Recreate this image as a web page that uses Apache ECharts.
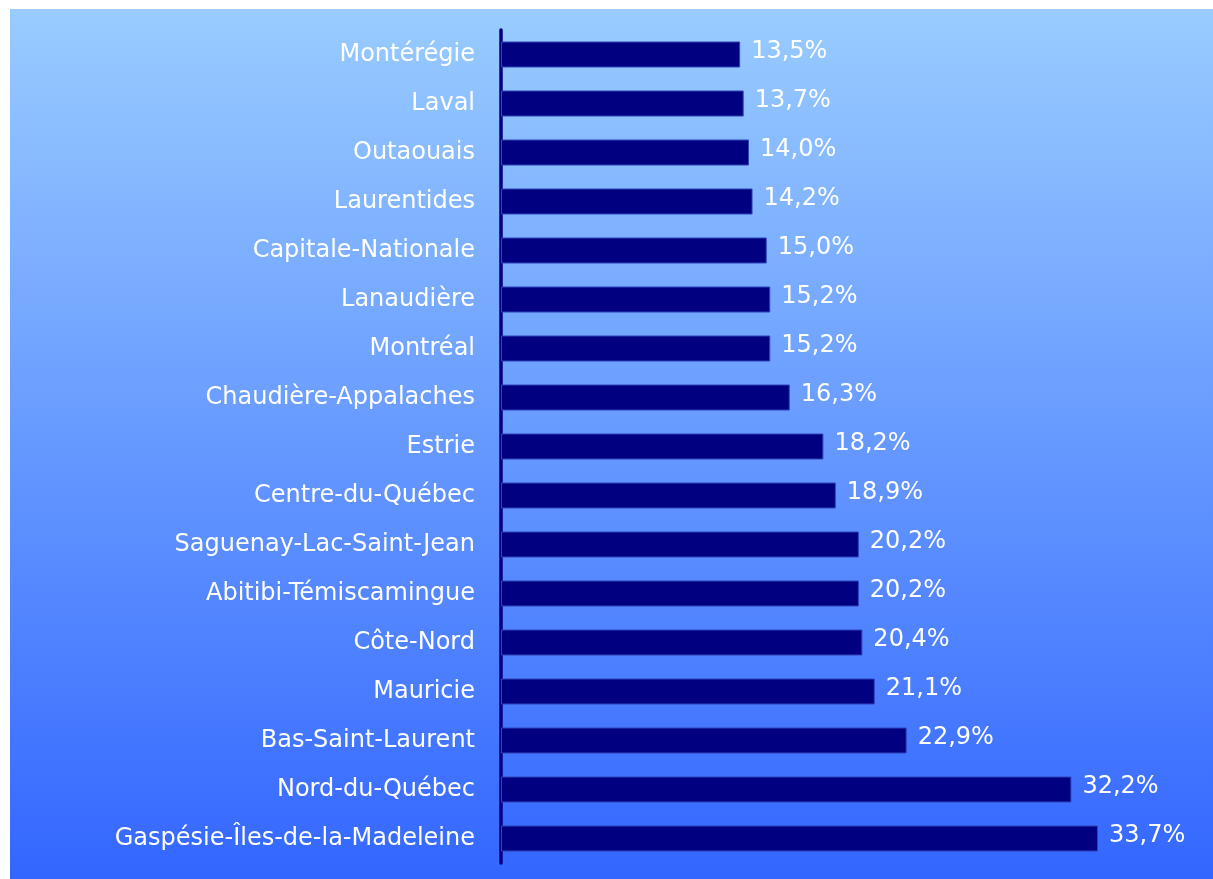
<!DOCTYPE html>
<html>
<head>
<meta charset="utf-8">
<script src="https://cdn.jsdelivr.net/npm/echarts@6/dist/echarts.min.js"></script>
<style>
html, body { margin: 0; padding: 0; background: #ffffff; }
#chart { width: 1213px; height: 879px; }
</style>
</head>
<body>
<div id="chart"></div>
<script>
const regions = [
  'Montérégie', 'Laval', 'Outaouais', 'Laurentides', 'Capitale-Nationale',
  'Lanaudière', 'Montréal', 'Chaudière-Appalaches', 'Estrie', 'Centre-du-Québec',
  'Saguenay-Lac-Saint-Jean', 'Abitibi-Témiscamingue', 'Côte-Nord', 'Mauricie',
  'Bas-Saint-Laurent', 'Nord-du-Québec', 'Gaspésie-Îles-de-la-Madeleine'
];
const rates = [13.5, 13.7, 14.0, 14.2, 15.0, 15.2, 15.2, 16.3, 18.2, 18.9, 20.2, 20.2, 20.4, 21.1, 22.9, 32.2, 33.7];

const FONT = '"DejaVu Sans", "Liberation Sans", Arial, sans-serif';
const chart = echarts.init(document.getElementById('chart'), null, { renderer: 'canvas' });
chart.setOption({
  animation: false,
  backgroundColor: '#ffffff',
  graphic: [{
    type: 'rect',
    z: -10,
    silent: true,
    shape: { x: 10, y: 9, width: 1203, height: 870 },
    style: {
      fill: new echarts.graphic.LinearGradient(0, 0, 0, 1, [
        { offset: 0, color: '#99ccff' },
        { offset: 1, color: '#3366ff' }
      ])
    }
  }],
  grid: { left: 501, right: 92, top: 30, bottom: 16, containLabel: false },
  xAxis: {
    type: 'value', min: 0, max: 35,
    show: false,
    splitLine: { show: false }
  },
  yAxis: {
    type: 'category',
    data: regions,
    inverse: true,
    axisLine: { show: true, lineStyle: { color: '#000080', width: 3.5, cap: 'round' } },
    axisTick: { show: false },
    axisLabel: {
      color: '#ffffff',
      fontFamily: FONT,
      fontSize: 24,
      margin: 26,
      padding: [0, 0, 4, 0]
    }
  },
  series: [{
    type: 'bar',
    data: rates,
    barWidth: 26,
    itemStyle: { color: '#000080', borderColor: '#2f44b8', borderWidth: 1 },
    label: {
      show: true,
      position: 'right',
      distance: 11,
      color: '#ffffff',
      fontFamily: FONT,
      fontSize: 24,
      offset: [0, -3],
      formatter: p => p.value.toFixed(1).replace('.', ',') + '%'
    }
  }]
});
</script>
</body>
</html>
